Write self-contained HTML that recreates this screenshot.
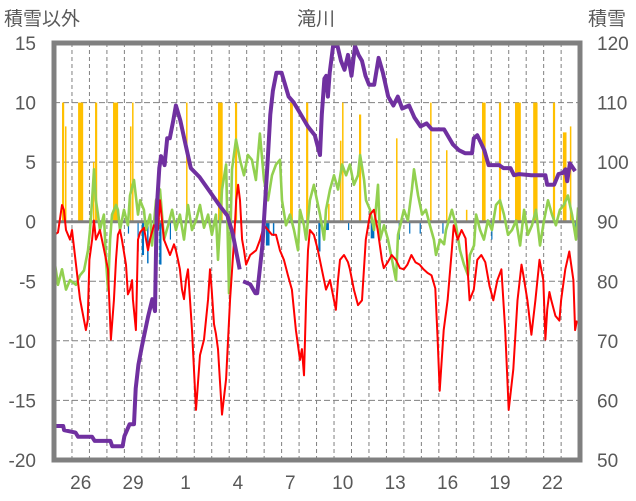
<!DOCTYPE html>
<html><head><meta charset="utf-8">
<style>
html,body{margin:0;padding:0;background:#fff;}
svg{display:block;font-family:"Liberation Sans","Noto Sans CJK JP",sans-serif;}
</style></head>
<body>
<svg id="chart" width="636" height="501" viewBox="0 0 636 501">
<text x="316" y="25" font-size="19" fill="#595959" text-anchor="middle">滝川</text>
<text x="4" y="25" font-size="19" fill="#595959">積雪以外</text>
<text x="588" y="25" font-size="19" fill="#595959">積雪</text>
<g id="grid"></g>
<g id="bars"></g>
<g id="lines"></g>
<g id="axes"></g>
</svg>
<script>
// ---- data ----
const dayLabels = ["26","29","1","4","7","10","13","16","19","22"];
const dayLabelIdx = [1,4,7,10,13,16,19,22,25,28];
const leftTicks = [15,10,5,0,-5,-10,-15,-20];
const rightTicks = [120,110,100,90,80,70,60,50];

const purpleDays = [0,0.5,0.55,1.2,1.35,2.15,2.3,3.2,3.3,3.9,4.0,4.3,4.55,4.65,4.8,5.0,5.35,5.6,5.75,5.85,6.0,6.1,6.3,6.45,6.6,6.8,6.95,7.2,7.5,7.8,8.3,8.9,9.5,9.9,10.2,10.6,10.7,10.8,11.2,11.5,11.6,11.9,12.2,12.35,12.5,12.7,13.0,13.2,13.4,13.7,14.0,14.5,14.9,15.2,15.3,15.45,15.55,15.65,15.75,15.95,16.2,16.4,16.6,16.8,17.0,17.2,17.4,17.6,17.8,18.0,18.3,18.55,18.8,19.1,19.4,19.65,19.9,20.3,20.6,20.95,21.3,21.6,22.3,22.8,23.15,23.5,23.9,24.0,24.2,24.45,24.6,24.85,25.2,25.45,25.7,26.1,26.3,26.6,27.3,28.1,28.2,28.6,28.85,29.1,29.25,29.35,29.5,29.8];
const purpleVals = [55.7,55.7,55,54.6,53.9,53.9,53.2,53.2,52.3,52.3,54,56,56,62,66,69,74,77,75,92,99,101,99.5,104,104,107,109.5,107,103,99,97.5,95,92.5,91,88,82,null,80,79.5,78,78,86,100,108,112,115,115,113,111,110,108.5,106,104.5,101.2,108,114,114.5,111,115,119.5,119.5,117,115.5,118,114.5,119.5,118,117,114.5,113,113,117.5,115,111,109.5,111,109,109.5,107.5,106,106.5,105.5,105.5,103,102,101.5,101.5,104,104.5,103,102,99.5,99.5,99.5,99,99,97.8,98,97.8,97.8,96.2,96.2,98,98.2,98.8,96.8,99.8,98.5];

const redDays = [0,0.2,0.43,0.54,0.66,0.89,1.0,1.23,1.46,1.8,1.9,2.0,2.15,2.26,2.37,2.6,2.83,3.06,3.23,3.4,3.52,3.63,3.75,3.86,4.09,4.2,4.32,4.44,4.49,4.66,4.78,4.9,5.12,5.35,5.46,5.69,5.92,6.04,6.27,6.61,6.84,6.95,7.07,7.18,7.3,7.41,7.53,7.64,7.87,8.1,8.33,8.56,8.79,8.9,9.0,9.13,9.24,9.36,9.59,9.82,10.05,10.28,10.4,10.51,10.62,10.74,10.85,10.97,11.2,11.54,11.77,12.0,12.22,12.45,12.68,12.9,13.13,13.36,13.59,13.82,14.05,14.16,14.28,14.4,14.51,14.62,14.85,15.08,15.3,15.54,15.77,16.0,16.11,16.23,16.34,16.57,16.8,16.91,17.14,17.37,17.6,17.82,18.06,18.28,18.5,18.74,18.85,19.08,19.3,19.54,19.77,20.0,20.2,20.43,20.66,20.9,21.12,21.35,21.58,21.8,21.93,22.05,22.28,22.5,22.74,22.85,23.08,23.3,23.53,23.76,24.0,24.2,24.43,24.66,24.9,25.12,25.35,25.58,25.8,26.0,26.26,26.5,26.73,26.84,27.07,27.3,27.53,27.76,27.98,28.1,28.2,28.33,28.44,28.67,28.9,29.0,29.24,29.47,29.7,29.8,29.9];
const redVals = [-1.1,-0.9,1.4,1.0,-0.7,-1.5,-0.7,-3.6,-6.5,-9.1,-8.3,-3.2,-1.5,0.1,-1.5,-0.7,-2.3,-4.0,-9.9,-6.6,-3.2,-1.1,-0.7,-1.5,-3.6,-6.1,-5.7,-4.9,-6.5,-9.1,-1.5,-0.9,-0.5,-2.4,-1.5,-0.3,-0.7,1.8,-1.5,-2.8,-1.9,-2.4,-3.2,-4.0,-5.7,-6.5,-4.9,-4.0,-9.1,-15.8,-11.2,-9.9,-6.5,-4.0,-5.7,-8.6,-9.4,-10.7,-16.2,-13.2,-6.5,-1.5,1.8,3.1,1.8,-1.5,-2.4,-3.6,-2.8,-2.4,-1.5,-0.3,-0.7,-1.1,-1.1,-2.4,-3.2,-4.5,-5.7,-9.1,-11.6,-10.7,-12.9,-6.6,-2.4,-0.7,-1.1,-2.4,-4.0,-5.7,-4.9,-6.6,-7.4,-4.9,-3.2,-2.8,-3.4,-4.0,-5.7,-7.0,-6.6,-1.5,0.6,1.0,-0.7,-3.2,-3.9,-3.4,-2.8,-3.2,-3.9,-4.0,-3.6,-2.8,-3.4,-3.6,-4.0,-4.3,-4.5,-5.6,-9.8,-14.2,-9.1,-6.6,-2.4,-0.3,-1.5,-0.7,-1.4,-6.6,-5.7,-3.2,-2.8,-3.4,-5.4,-6.6,-4.9,-4.0,-9.1,-15.8,-12.4,-6.6,-3.6,-4.5,-6.6,-9.5,-6.6,-3.2,-4.9,-9.9,-7.4,-5.9,-6.6,-7.9,-8.3,-6.6,-4.0,-2.5,-4.9,-9.1,-8.3];

const greenDays = [0,0.2,0.43,0.66,0.89,1.23,1.46,1.69,1.92,2.03,2.15,2.26,2.37,2.49,2.6,2.83,2.95,3.06,3.18,3.29,3.52,3.63,3.75,3.98,4.2,4.32,4.55,4.78,4.9,5.12,5.24,5.47,5.58,5.81,6.04,6.27,6.5,6.73,6.95,7.18,7.41,7.64,7.87,8.1,8.33,8.56,8.79,9.01,9.24,9.36,9.59,9.82,9.99,10.16,10.39,10.62,10.85,11.07,11.3,11.53,11.76,11.99,12.22,12.45,12.68,12.91,13.02,13.25,13.48,13.71,13.94,14.05,14.28,14.4,14.62,14.85,14.97,15.2,15.43,15.54,15.77,16.0,16.23,16.46,16.69,16.91,17.14,17.37,17.49,17.72,17.83,18.06,18.29,18.52,18.63,18.86,19.09,19.32,19.55,19.66,20.0,20.23,20.46,20.58,20.81,21.04,21.26,21.49,21.72,21.84,22.07,22.3,22.41,22.75,22.98,23.21,23.44,23.67,23.78,24.01,24.13,24.36,24.58,24.81,25.04,25.27,25.5,25.73,25.96,26.19,26.42,26.65,26.88,27.1,27.33,27.56,27.79,28.02,28.25,28.48,28.7,28.93,29.16,29.39,29.62,29.85,29.97];
const greenVals = [-3.3,-5.3,-4.0,-5.7,-4.9,-5.3,-4.5,-4.1,-2.4,-0.7,1.8,4.4,1.8,0.6,-0.7,0.6,-3.2,-5.7,-1.5,0.6,1.4,1.0,-0.7,1.0,-0.3,2.2,3.5,0.6,1.8,1.0,-0.7,0.6,-2.0,1.8,2.7,-1.5,-0.3,1.0,-0.7,0.6,-1.5,1.4,-0.7,0.1,1.4,-0.5,0.6,-1.1,0.6,-3.2,2.7,4.8,-6.0,4.4,6.9,5.2,3.9,5.6,5.2,3.5,7.4,3.5,1.8,3.9,4.8,5.2,1.8,-0.3,0.6,-0.7,-2.4,1.0,-0.3,-1.5,1.8,3.1,2.2,0.6,-1.5,1.0,2.7,3.9,2.7,4.8,3.9,4.8,3.1,3.9,5.6,3.5,1.8,1.0,-0.7,3.1,-1.5,-0.3,-1.5,-3.2,-4.9,-1.1,1.0,0.1,2.7,4.4,2.2,0.6,1.0,-0.3,-1.5,-2.8,-1.5,-1.9,-0.7,1.0,-0.3,-2.4,-3.6,-4.5,-2.8,-2.0,0.6,-0.7,-1.5,0.1,-0.7,1.4,1.8,0.6,-1.1,-0.7,0.1,-2.0,1.0,-1.1,-0.3,1.0,-2.0,0.1,1.8,0.6,-0.3,1.0,1.4,2.2,0.6,-1.5,1.2];

const orangeDays = [0.43,0.6,1.35,2.2,2.32,3.35,4.32,4.44,7.53,9.36,9.42,10.33,13.48,14.4,15.66,16.34,16.46,17.43,19.55,21.5,22.41,23.55,24.47,25.44,26.36,27.4,28.53,29.1,29.5];
const orangeHours = [3,1,7,1,3,7,1,1,2,1,5,3,4,3,1,1,2,3,1,1,1,1,5,3,8,6,3,5,2];
const orangeVals = [10,8,10,5,10,10,8,10,10,10,10,10,10,10,1.5,6.8,10,9,7,10,6,1,10,10,10,10,10,7.5,8];

const blueDays = [4.2,4.75,5.0,5.3,6.0,6.6,12.1,12.5,15.1,15.5,16.8,18.1,18.6,19.7,20.3,20.9,22.2,25.0,29.8];
const blueHours = [1,1,3,2,3,1,5,2,3,5,1,5,2,1,1,1,1,1,1];
const blueVals = [-1,-2.5,-2.8,-3.5,-3.6,-1.5,-2,-1.2,-2.5,-0.7,-0.7,-1.4,-1.2,-1.5,-1,-1,-1,-1.5,-1];

// ---- scales ----
const X0 = 54.5, DAYW = 17.47;
const xS = d => X0 + d * DAYW;
const yL = v => 221.7 - v * 11.91;
const yR = v => 43 + (120 - v) * 5.957;
const NS = "http://www.w3.org/2000/svg";
function mk(tag, attrs, parent){
  const e = document.createElementNS(NS, tag);
  for (const k in attrs) e.setAttribute(k, attrs[k]);
  parent.appendChild(e);
  return e;
}
const grid = document.getElementById('grid');
const bars = document.getElementById('bars');
const lines = document.getElementById('lines');
const axes = document.getElementById('axes');

for (let k = 1; k < 30; k++) {
  const l = mk('line', {x1:xS(k), x2:xS(k), y1:43, y2:460, stroke:'#808080', 'stroke-width':1, 'stroke-dasharray':'4,3'}, grid);
  
  
}
leftTicks.forEach(t => {
  if (t === 15 || t === -20 || t === 0) return;
  const l = mk('line', {x1:54, x2:580, y1:yL(t), y2:yL(t), stroke:'#808080', 'stroke-width':1, 'stroke-dasharray':'6,3'}, grid);
  
  
});

orangeDays.forEach((d, i) => {
  const w = orangeHours[i] / 24 * DAYW;
  const r = mk('rect', {x:xS(d), y:yL(orangeVals[i]), width:Math.max(w,1.5), height:yL(0)-yL(orangeVals[i]), fill:'#ffc000'}, bars);
  
  
});
blueDays.forEach((d, i) => {
  const w = blueHours[i] / 24 * DAYW;
  const r = mk('rect', {x:xS(d), y:yL(0), width:Math.max(w,1.2), height:yL(blueVals[i])-yL(0), fill:'#0070c0'}, bars);
  
  
});

const z = mk('line', {x1:54, x2:580, y1:yL(0), y2:yL(0), stroke:'#808080', 'stroke-width':3}, bars);



function pathFrom(days, vals, ys){
  let d = '', pen = false;
  days.forEach((dd, i) => {
    const v = vals[i];
    if (v === null) { pen = false; return; }
    d += (pen ? 'L' : 'M') + xS(dd).toFixed(1) + ',' + ys(v).toFixed(1);
    pen = true;
  });
  return d;
}
const g = mk('path', {d:pathFrom(greenDays, greenVals, yL), fill:'none', stroke:'#92d050', 'stroke-width':2.6, 'stroke-linejoin':'round'}, lines);


const r = mk('path', {d:pathFrom(redDays, redVals, yL), fill:'none', stroke:'#ff0000', 'stroke-width':2, 'stroke-linejoin':'round'}, lines);


const p = mk('path', {d:pathFrom(purpleDays, purpleVals, yR), fill:'none', stroke:'#7030a0', 'stroke-width':4, 'stroke-linejoin':'round'}, lines);



const f = mk('rect', {x:54, y:43, width:526, height:417, fill:'none', stroke:'#808080', 'stroke-width':5}, axes);



leftTicks.forEach(t => {
  const tx = mk('text', {x:36, y:yL(t)+7, 'font-size':19, fill:'#595959', 'text-anchor':'end'}, axes);
  tx.textContent = t;
  
  
});
rightTicks.forEach(t => {
  const tx = mk('text', {x:597, y:yR(t)+7, 'font-size':19, fill:'#595959'}, axes);
  tx.textContent = t;
  
  
});
dayLabels.forEach((lab, i) => {
  const tx = mk('text', {x:xS(dayLabelIdx[i]+0.5), y:489, 'font-size':19, fill:'#595959', 'text-anchor':'middle'}, axes);
  tx.textContent = lab;
  
  
});
</script>
</body></html>
